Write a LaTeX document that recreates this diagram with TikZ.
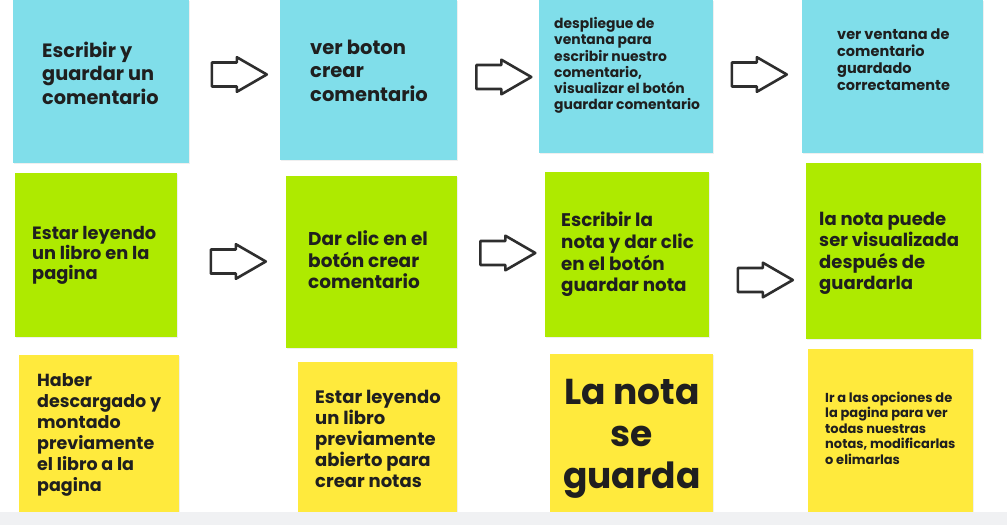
\documentclass[tikz,border=0pt]{standalone}
\usepackage{fontspec}
\setmainfont{Poppins}
\usetikzlibrary{shapes.arrows,shadows}

\definecolor{noteblue}{HTML}{80DEEA}
\definecolor{notegreen}{HTML}{AEEA00}
\definecolor{noteyellow}{HTML}{FFEA3D}
\definecolor{arrowgray}{HTML}{2E2E2E}
\definecolor{bandgray}{HTML}{F0F1F3}

\tikzset{
  note/.style={anchor=north west, inner sep=0pt, fill=#1,
    drop shadow={opacity=0.12, shadow xshift=0.6pt, shadow yshift=-1.2pt}},
  txt/.style 2 args={anchor=base west, inner sep=0pt, align=left, text=black!88,
    font=\bfseries\fontsize{#1}{#2}\selectfont},
  blockarrow/.style={single arrow, draw=arrowgray, line width=2.6pt, fill=white,
    line join=round, inner xsep=0pt, inner ysep=10.7pt, minimum height=55pt,
    single arrow head extend=5.3pt, single arrow tip angle=60, anchor=tail}
}

\begin{document}
\begin{tikzpicture}[x=1pt, y=-1pt]

  \useasboundingbox (0,0) rectangle (1007,525);
  \fill[white] (0,0) rectangle (1007,525);

  % Draw the notes
  \node[note=noteblue, minimum width=176pt, minimum height=163pt] (b1) at (13,0) {};
  \node[note=noteblue, minimum width=177pt, minimum height=160pt] (b2) at (280,0) {};
  \node[note=noteblue, minimum width=174pt, minimum height=153pt] (b3) at (539,0) {};
  \node[note=noteblue, minimum width=181pt, minimum height=153pt] (b4) at (802,0) {};

  \node[note=notegreen, minimum width=162pt, minimum height=164pt] (g1) at (15,173) {};
  \node[note=notegreen, minimum width=171pt, minimum height=172pt] (g2) at (286,176) {};
  \node[note=notegreen, minimum width=164pt, minimum height=165pt] (g3) at (545,172) {};
  \node[note=notegreen, minimum width=175pt, minimum height=176pt] (g4) at (806,163) {};

  \node[note=noteyellow, minimum width=160pt, minimum height=165pt] (y1) at (19,355) {};
  \node[note=noteyellow, minimum width=159pt, minimum height=158pt] (y2) at (298,362) {};
  \node[note=noteyellow, minimum width=163pt, minimum height=166pt] (y3) at (550,354) {};
  \node[note=noteyellow, minimum width=165pt, minimum height=171pt] (y4) at (808,349) {};

  \fill[bandgray] (0,512) rectangle (1007,525);

  % Texts (placed by the baseline of their last line)
  \node[txt={19.3}{23.5}] (b1t) at (42,104) {Escribir y\\guardar un\\comentario};
  \node[txt={19.5}{23.5}] (b2t) at (310,101) {ver boton\\crear\\comentario};
  \node[txt={13.9}{16.2}] (b3t) at (554,109.7) {despliegue de\\ventana para\\escribir nuestro\\comentario,\\visualizar el botón\\guardar comentario};
  \node[txt={14.5}{17}] (b4t) at (837,90.8) {ver ventana de\\comentario\\guardado\\correctamente};

  \node[txt={17.8}{20}] (g1t) at (32,279.6) {Estar leyendo\\un libro en la\\pagina};
  \node[txt={18.5}{21.5}] (g2t) at (308,288.8) {Dar clic en el\\botón crear\\comentario};
  \node[txt={18.3}{21.7}] (g3t) at (561,291.8) {Escribir la\\nota y dar clic\\en el botón\\guardar nota};
  \node[txt={18}{21.5}] (g4t) at (819,289.7) {la nota puede\\ser visualizada\\después de\\guardarla};

  \node[txt={17.5}{21}] (y1t) at (37,491.5) {Haber\\descargado y\\montado\\previamente\\el libro a la\\pagina};
  \node[txt={18}{21}] (y2t) at (315,487.7) {Estar leyendo\\un libro\\previamente\\abierto para\\crear notas};
  \node[txt={36}{42}, align=center, anchor=base] (y3t) at (632,488) {La nota\\se\\guarda};
  \node[txt={13}{15.5}] (y4t) at (825,464.4) {Ir a las opciones de\\la pagina para ver\\todas nuestras\\notas, modificarlas\\o elimarlas};

  % Arrows (placed by their tail)
  \node[blockarrow] (a1) at (210.5,74.5) {};
  \node[blockarrow] (a2) at (475,77) {};
  \node[blockarrow] (a3) at (730.5,74.5) {};
  \node[blockarrow] (a4) at (209.5,261.5) {};
  \node[blockarrow] (a5) at (479,253) {};
  \node[blockarrow] (a6) at (736.5,280) {};

\end{tikzpicture}
\end{document}
